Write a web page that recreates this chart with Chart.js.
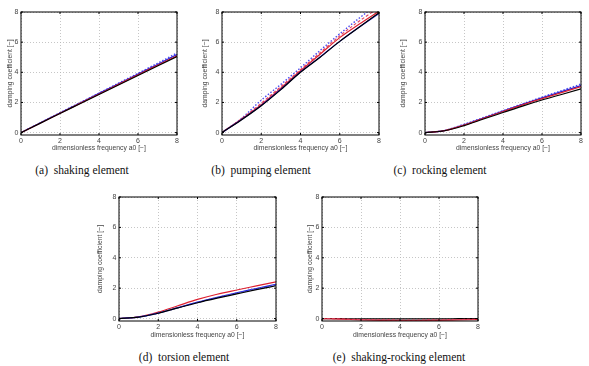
<!DOCTYPE html>
<html><head><meta charset="utf-8">
<script src="https://cdn.jsdelivr.net/npm/chart.js@4.4.1/dist/chart.umd.min.js"></script>
<style>
html,body{margin:0;padding:0;background:#fff;}
body{width:589px;height:366px;position:relative;overflow:hidden;}
canvas{position:absolute;}
.cap{position:absolute;font-family:"Liberation Serif","Times New Roman",serif;font-size:11.5px;color:#111;white-space:pre;transform:translate(-50%,-50%);}
</style></head><body>
<canvas id="ca"></canvas><canvas id="cb"></canvas><canvas id="cc"></canvas><canvas id="cd"></canvas><canvas id="ce"></canvas>
<div class="cap" style="left:82px;top:170px">(a)  shaking element</div>
<div class="cap" style="left:261px;top:170px">(b)  pumping element</div>
<div class="cap" style="left:440px;top:170px">(c)  rocking element</div>
<div class="cap" style="left:184px;top:357px">(d)  torsion element</div>
<div class="cap" style="left:399px;top:357px">(e)  shaking-rocking element</div>
<script>
// ---- data ----
const freq = [0, 1, 2, 3, 4, 5, 6, 7, 8];
const xTicks = [0, 2, 4, 6, 8];
const yTicks = [0, 2, 4, 6, 8];
const xLabel = 'dimensionless frequency a0 [\u2212]';
const yLabel = 'damping coefficient [\u2212]';

const shakingBlack   = [0, 0.63, 1.27, 1.90, 2.53, 3.16, 3.79, 4.42, 5.05];
const shakingRed     = [0, 0.64, 1.28, 1.92, 2.56, 3.20, 3.84, 4.47, 5.10];
const shakingBlue    = [0, 0.65, 1.30, 1.95, 2.60, 3.24, 3.88, 4.52, 5.18];
const shakingBlueDot = [0, 0.66, 1.32, 1.97, 2.62, 3.28, 3.93, 4.60, 5.28];

const pumpingBlack   = [0, 0.85, 1.78, 2.85, 4.00, 5.00, 6.05, 7.00, 7.95];
const pumpingBlue    = [0, 0.87, 1.80, 2.88, 4.02, 5.02, 6.05, 7.00, 7.90];
const pumpingRed     = [0, 0.90, 1.85, 2.95, 4.10, 5.20, 6.30, 7.20, 8.05];
const pumpingRedDash = [0, 0.92, 1.95, 3.05, 4.18, 5.30, 6.42, 7.40, 8.30];
const pumpingBlueDot = [0, 0.95, 2.15, 3.20, 4.30, 5.45, 6.55, 7.60, 8.60];

const rockingBlack   = [0, 0.12, 0.46, 0.90, 1.33, 1.76, 2.16, 2.53, 2.90];
const rockingRed     = [0, 0.13, 0.50, 0.95, 1.40, 1.84, 2.25, 2.65, 3.05];
const rockingBlue    = [0, 0.13, 0.52, 0.97, 1.42, 1.87, 2.30, 2.72, 3.12];
const rockingBlueDot = [0, 0.14, 0.55, 1.00, 1.45, 1.90, 2.35, 2.78, 3.22];

const torsionBlack   = [0, 0.10, 0.35, 0.70, 1.04, 1.34, 1.62, 1.90, 2.16];
const torsionBlue    = [0, 0.10, 0.36, 0.72, 1.08, 1.40, 1.70, 1.98, 2.26];
const torsionBlueDot = [0, 0.10, 0.36, 0.71, 1.06, 1.38, 1.68, 1.96, 2.22];
const torsionRed     = [0, 0.11, 0.42, 0.84, 1.26, 1.60, 1.88, 2.15, 2.42];

const srBlack   = [0, -0.01, -0.02, -0.02, -0.02, -0.02, -0.02, -0.01, 0];
const srRed     = [0, -0.04, -0.09, -0.12, -0.13, -0.13, -0.12, -0.09, -0.06];
const srRedDash = [0, -0.03, -0.06, -0.08, -0.09, -0.09, -0.08, -0.06, -0.04];

// ---- styles ----
const ST = {
  black:   {color:'#000000', dash:[], w:1.2},
  red:     {color:'#dd2030', dash:[], w:1.2},
  redDash: {color:'#e04060', dash:[3,2], w:1.1},
  blue:    {color:'#2020d8', dash:[], w:1.2},
  blueDot: {color:'#4a4af0', dash:[1.5,1.8], w:1.4}
};

function ds(data, style){
  const s = ST[style];
  return {data: freq.map((x,i)=>({x, y:data[i]})), borderColor:s.color, borderWidth:s.w,
          borderDash:s.dash, pointRadius:0, fill:false, cubicInterpolationMode:'monotone'};
}

const framePlugin = {
  id:'frame',
  afterDraw(c){
    const a = c.chartArea, ctx = c.ctx;
    ctx.save();
    ctx.strokeStyle = '#000'; ctx.lineWidth = 1;
    ctx.beginPath();
    xTicks.forEach(v=>{const px = c.scales.x.getPixelForValue(v);
      ctx.moveTo(px, a.bottom); ctx.lineTo(px, a.bottom-2);
      ctx.moveTo(px, a.top); ctx.lineTo(px, a.top+2);});
    yTicks.forEach(v=>{const py = c.scales.y.getPixelForValue(v);
      ctx.moveTo(a.left, py); ctx.lineTo(a.left+2, py);
      ctx.moveTo(a.right, py); ctx.lineTo(a.right-2, py);});
    ctx.stroke();
    ctx.strokeRect(a.left, a.top, a.right-a.left, a.bottom-a.top);
    ctx.restore();
  }
};

const YW = 28, XH = 26, PT = 12, PR = 6;
const tickFont = {family:'"Liberation Sans", Arial, sans-serif', size:7};
const titleFont = {family:'"Liberation Sans", Arial, sans-serif', size:6.8};

function makeChart(id, L, T, R, B, yTitleOff, xTitleOff, datasets){
  const cv = document.getElementById(id);
  const w = (R-L) + YW + PR, h = (B-T) + PT + XH;
  cv.width = w; cv.height = h;
  cv.style.left = (L-YW)+'px'; cv.style.top = (T-PT)+'px';
  cv.style.width = w+'px'; cv.style.height = h+'px';
  new Chart(cv, {
    type:'line',
    data:{datasets},
    plugins:[framePlugin],
    options:{
      animation:false, responsive:false, devicePixelRatio:1,
      layout:{padding:{left:0, top:PT, right:PR, bottom:0}},
      plugins:{legend:{display:false}, tooltip:{enabled:false}},
      scales:{
        x:{type:'linear', min:0, max:8,
           afterBuildTicks:s=>{s.ticks = xTicks.map(v=>({value:v}));},
           afterFit:s=>{s.height = XH;},
           grid:{color:'#b8b8b8', lineWidth:0.8, drawTicks:false},
           border:{display:false, dash:[1,2]},
           ticks:{font:tickFont, color:'#444', padding:2, maxRotation:0, autoSkip:false},
           title:{display:true, text:xLabel, font:titleFont, color:'#444', padding:{top:0, bottom:XH-xTitleOff-4.1}}},
        y:{type:'linear', min:-0.16, max:8,
           afterBuildTicks:s=>{s.ticks = yTicks.map(v=>({value:v}));},
           afterFit:s=>{s.width = YW;},
           grid:{color:'#b8b8b8', lineWidth:0.8, drawTicks:false},
           border:{display:false, dash:[1,2]},
           ticks:{font:tickFont, color:'#444', padding:2.5, autoSkip:false},
           title:{display:true, text:yLabel, font:titleFont, color:'#444', padding:{top:YW-4.1-yTitleOff, bottom:0}}}
      }
    }
  });
}

makeChart('ca', 21, 12, 177, 135, 10.7, 13, [
  ds(shakingBlack,'black'), ds(shakingRed,'red'), ds(shakingBlue,'blue'), ds(shakingBlueDot,'blueDot')]);
makeChart('cb', 222, 12, 379, 135, 16.7, 13, [
  ds(pumpingBlack,'black'), ds(pumpingBlue,'blue'), ds(pumpingRed,'red'), ds(pumpingRedDash,'redDash'), ds(pumpingBlueDot,'blueDot')]);
makeChart('cc', 425, 12, 581, 135, 22, 13, [
  ds(rockingBlack,'black'), ds(rockingRed,'red'), ds(rockingBlue,'blue'), ds(rockingBlueDot,'blueDot')]);
makeChart('cd', 119, 197, 276, 321, 19, 13.8, [
  ds(torsionBlack,'black'), ds(torsionBlueDot,'blueDot'), ds(torsionBlue,'blue'), ds(torsionRed,'red')]);
makeChart('ce', 322, 197, 478, 321, 11.7, 13.8, [
  ds(srRedDash,'redDash'), ds(srRed,'red'), ds(srBlack,'black')]);
</script>
</body></html>
